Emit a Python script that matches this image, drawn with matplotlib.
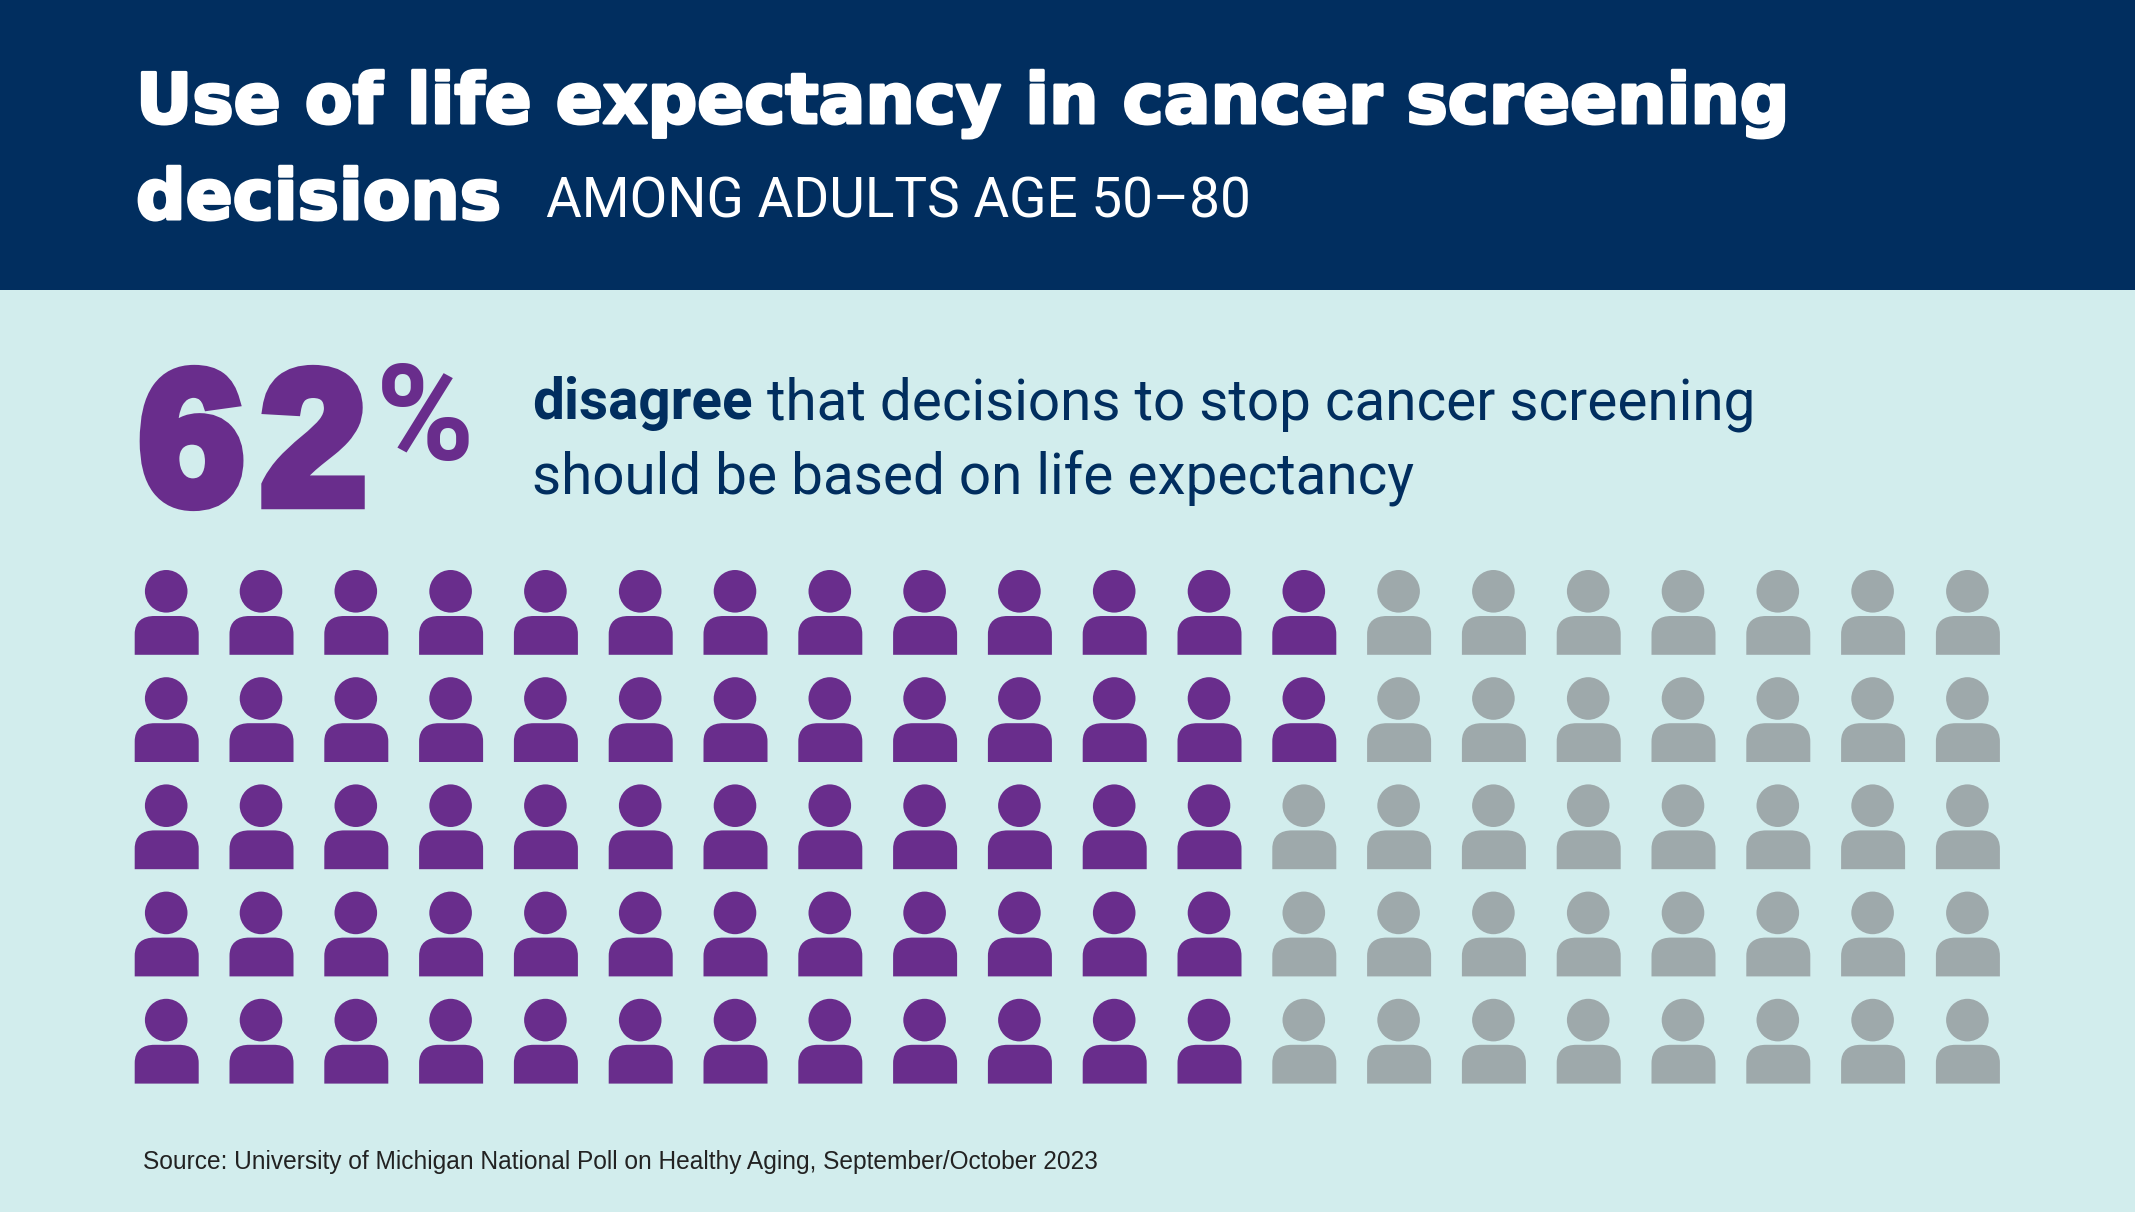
import matplotlib
matplotlib.use("Agg")
import matplotlib.pyplot as plt
import matplotlib.patheffects as pe
from matplotlib.path import Path
from matplotlib.patches import Rectangle
import numpy as np

# purple people in each row of the 20 x 5 grid (62 of 100)
n_cols = 20
row_purple = [13, 13, 12, 12, 12]

title_line1 = "Use of life expectancy in cancer screening"
title_line2 = "decisions"
subtitle = "AMONG ADULTS AGE 50\u201380"
big_digits = ["6", "2"]
big_sign = "%"
text_bold = "disagree"
text_rest = " that decisions to stop cancer screening"
text_line2 = "should be based on life expectancy"
source = "Source: University of Michigan National Poll on Healthy Aging, September/October 2023"

navy = "#012e5f"
bg = "#d2eded"
purple = "#692d8c"
grey = "#9ea9ab"

W, H = 2135, 1212
DPI = 100
fig = plt.figure(figsize=(W / DPI, H / DPI), dpi=DPI, facecolor=bg)

# full figure axes in pixels for the header and the text
ax = fig.add_axes([0, 0, 1, 1])
ax.set_xlim(0, W)
ax.set_ylim(H, 0)
ax.axis("off")
ax.add_patch(Rectangle((0, 0), W, 290, color=navy, lw=0))

heavy = "DejaVu Sans"
plain = "Liberation Sans"
slim = "Roboto"

fat = [pe.withStroke(linewidth=2.2, foreground="white")]
ax.text(136, 123, title_line1, color="white", fontsize=49.95, family=heavy, weight="bold",
        va="baseline", path_effects=fat)
ax.text(136, 219, title_line2, color="white", fontsize=49.95, family=heavy, weight="bold",
        va="baseline", path_effects=fat)
ax.text(546, 217, subtitle, color="white", fontsize=39.5, family=slim, va="baseline")

# digits drawn one by one, the thick outline would merge them otherwise
fat_p = [pe.withStroke(linewidth=9, foreground=purple, joinstyle="miter")]
for digit, x in zip(big_digits, [139, 261]):
    ax.text(x, 503, digit, color=purple, fontsize=136, family=plain, weight="bold",
            va="baseline", path_effects=fat_p)
ax.text(376, 460, big_sign, color=purple, fontsize=96, family=slim, weight="bold", va="baseline")

b = ax.text(532, 419, text_bold, color=navy, fontsize=40.8, family=slim, weight="bold", va="baseline")
fig.canvas.draw()
bb = b.get_window_extent().transformed(ax.transData.inverted())
ax.text(bb.x1, 419, text_rest, color=navy, fontsize=40.8, family=slim, va="baseline")
ax.text(532, 494, text_line2, color=navy, fontsize=40.8, family=slim, va="baseline")

ax.text(143, 1169, source, color="#222222", fontsize=17.65, family=plain, va="baseline")

# person icon, pixels around the icon centre, y up
r = 21.3
head = Path.circle((-0.5, 21), r)
body = Path(
    [(-32, -42.5), (-32, -22), (-32, -9), (-24, -3.7), (-12, -3.7),
     (12, -3.7), (24, -3.7), (32, -9), (32, -22), (32, -42.5), (-32, -42.5)],
    [Path.MOVETO, Path.LINETO, Path.CURVE4, Path.CURVE4, Path.CURVE4,
     Path.LINETO, Path.CURVE4, Path.CURVE4, Path.CURVE4, Path.LINETO, Path.CLOSEPOLY],
)
person = Path.make_compound_path(head, body)
# matplotlib rescales custom markers by their largest vertex
size = (2 * np.abs(person.vertices).max() * 72 / DPI) ** 2

pitch_x, pitch_y = 94.8, 107.2
left = 166.7 - pitch_x / 2
top = 612.3 - pitch_y / 2
n_rows = len(row_purple)
grid = fig.add_axes([left / W, 1 - (top + n_rows * pitch_y) / H,
                     n_cols * pitch_x / W, n_rows * pitch_y / H])
grid.set_xlim(-0.5, n_cols - 0.5)
grid.set_ylim(n_rows - 0.5, -0.5)
grid.axis("off")

for row, n in enumerate(row_purple):
    cols = np.arange(n_cols)
    colors = [purple if c < n else grey for c in cols]
    grid.scatter(cols, [row] * n_cols, marker=person, s=size, c=colors, linewidths=0)

fig.savefig("out.png", dpi=DPI, facecolor=bg)
